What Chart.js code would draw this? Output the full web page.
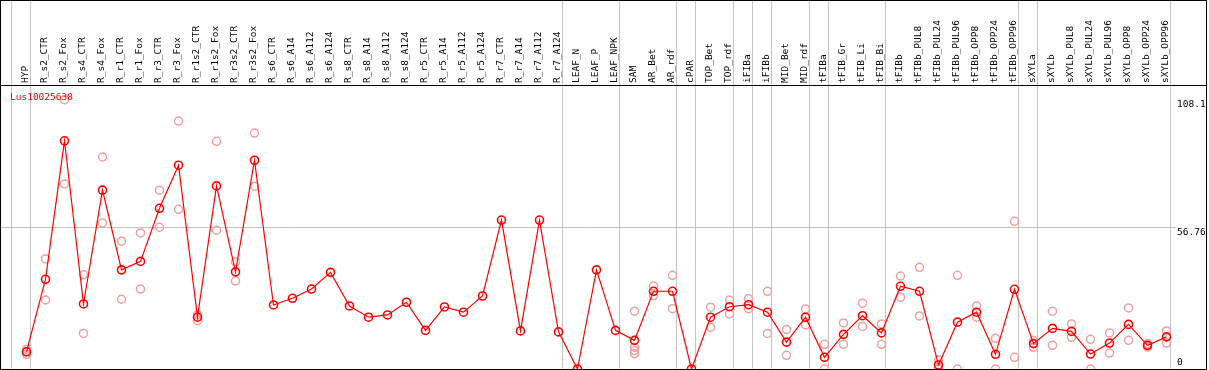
<!DOCTYPE html>
<html>
<head>
<meta charset="utf-8">
<script src="https://cdn.jsdelivr.net/npm/chart.js@4/dist/chart.umd.min.js"></script>
<style>
  html, body { margin: 0; padding: 0; background: #fff; }
  canvas { display: block; }
</style>
</head>
<body>
<canvas id="chart" width="1209" height="370"></canvas>
<script>
// categorias (columnas del grafico)
const CATS = [
  "HYP", "R_s2_CTR", "R_s2_Fox", "R_s4_CTR", "R_s4_Fox", "R_r1_CTR", "R_r1_Fox",
  "R_r3_CTR", "R_r3_Fox", "R_r1s2_CTR", "R_r1s2_Fox", "R_r3s2_CTR", "R_r3s2_Fox",
  "R_s6_CTR", "R_s6_A14", "R_s6_A112", "R_s6_A124", "R_s8_CTR", "R_s8_A14", "R_s8_A112",
  "R_s8_A124", "R_r5_CTR", "R_r5_A14", "R_r5_A112", "R_r5_A124", "R_r7_CTR", "R_r7_A14",
  "R_r7_A112", "R_r7_A124", "LEAF_N", "LEAF_P", "LEAF_NPK", "SAM", "AR_Bet", "AR_rdf",
  "cPAR", "TOP_Bet", "TOP_rdf", "iFIBa", "iFIBb", "MID_Bet", "MID_rdf", "tFIBa",
  "tFIB_Gr", "tFIB_Li", "tFIB_Bi", "tFIBb", "tFIBb_PUL8", "tFIBb_PUL24", "tFIBb_PUL96",
  "tFIBb_OPP8", "tFIBb_OPP24", "tFIBb_OPP96", "sXYLa", "sXYLb", "sXYLb_PUL8",
  "sXYLb_PUL24", "sXYLb_PUL96", "sXYLb_OPP8", "sXYLb_OPP24", "sXYLb_OPP96"
];

const GENE = "Lus10025638";

// media por categoria
const MEAN = [
  6.9, 36.0, 91.6, 26.1, 71.8, 39.8, 43.2, 64.5, 81.8, 20.8, 73.5, 39.0, 83.8,
  25.7, 28.4, 32.1, 38.8, 25.3, 20.8, 21.7, 26.8, 15.5, 24.9, 22.8, 29.3, 59.8, 15.3,
  59.8, 14.9, 0, 39.8, 15.5, 11.5, 31.2, 31.2, 0, 20.8, 25.0, 25.8, 22.8, 10.8, 20.8,
  4.7, 13.9, 21.4, 14.5, 33.2, 31.2, 1.6, 18.8, 22.8, 5.9, 32.0, 10.2, 16.3, 15.1,
  6.0, 10.4, 17.9, 9.5, 12.9
];

// replicas (null = no hay)
const REP1 = [
  7.9, 44.2, 108.1, 37.8, 85.1, 51.3, 54.6, 71.8, 99.5, 21.7, 91.4, 43.0, 94.7,
  null, null, null, null, null, null, null, null, null, null, null, null, null, null,
  null, null, null, null, null, 23.2, 33.3, 37.6, null, 24.8, 27.7, 28.2, 31.2, 15.9, 24.1,
  9.9, 18.5, 26.4, 18.1, 37.3, 40.8, 3.6, 37.6, 25.3, 12.3, 59.3, 11.4, 23.2, 18.1,
  11.9, 14.5, 24.5, 10.2, 15.3
];
const REP2 = [
  5.9, 27.7, 74.3, 14.3, 58.6, 28.0, 32.1, 56.9, 64.1, 19.4, 55.7, 35.3, 73.4,
  null, null, null, null, null, null, null, null, null, null, null, null, null, null,
  null, null, null, null, null, 8.7, 29.4, 24.2, null, 16.7, 22.1, 24.2, 14.3, 5.5, 17.7,
  0, 9.9, 17.1, 9.9, 28.8, 21.3, 0, 0, 20.8, 0, 4.7, 8.7, 9.5, 12.7,
  0, 6.4, 11.5, 8.8, 10.4
];
const REP3 = { 0: 6.9, 32: 7.4 };
const REP4 = { 32: 6.2 };

const Y_TICKS = [0, 56.76, 108.1];

// lineas de separacion de grupos (despues de estas categorias)
const GROUP_ENDS = [-1, 0, 28, 31, 34, 35, 37, 38, 39, 41, 42, 45, 52, 53, 60];

const RED = "#ff0000";
const PINK = "#f0a0a0";
const GRID = "#c4c4c4";

function toPoints(arr) {
  const out = [];
  arr.forEach((v, i) => { if (v !== null && v !== undefined) out.push({ x: i, y: v }); });
  return out;
}
function dictPoints(d) {
  return Object.keys(d).map(k => ({ x: Number(k), y: d[k] }));
}

// sin relleno extra de los ejes, para que el area quede fija
function noPad(s) {
  s.paddingLeft = 0;
  s.paddingRight = 0;
  s.paddingTop = 0;
  s.paddingBottom = 0;
}

const framePlugin = {
  id: "frame",
  beforeDatasetsDraw(chart) {
    const { ctx, scales: { x } } = chart;
    const bottom = chart.chartArea.bottom;
    ctx.save();
    ctx.fillStyle = GRID;
    for (const i of GROUP_ENDS) {
      const px = Math.floor(x.getPixelForValue(i) + 4);
      ctx.fillRect(px, 0, 1, bottom);
    }
    ctx.restore();
  },
  afterDraw(chart) {
    const { ctx, chartArea } = chart;
    const w = chart.width - 2;
    ctx.save();
    ctx.fillStyle = "#000";
    ctx.fillRect(0, 0, w, 1);
    ctx.fillRect(0, chartArea.top, w, 1);
    ctx.fillRect(0, chartArea.bottom, w, 1);
    ctx.fillRect(0, 0, 1, chartArea.bottom + 1);
    ctx.fillRect(w - 1, 0, 1, chartArea.bottom + 1);
    ctx.fillStyle = RED;
    ctx.font = "9.5px 'DejaVu Sans Mono', monospace";
    ctx.textBaseline = "middle";
    ctx.fillText(GENE, 10, chartArea.top + 12.5);
    ctx.restore();
  }
};

Chart.defaults.font.family = "'DejaVu Sans Mono', monospace";
Chart.defaults.font.size = 9.5;
Chart.defaults.color = "#000";

const repStyle = {
  type: "line",
  showLine: false,
  pointStyle: "circle",
  pointRadius: 4,
  pointBorderWidth: 1.5,
  pointBorderColor: PINK,
  pointBackgroundColor: "rgba(0,0,0,0)",
  borderColor: PINK
};

new Chart(document.getElementById("chart"), {
  type: "line",
  data: {
    datasets: [
      {
        label: GENE,
        data: toPoints(MEAN),
        borderColor: RED,
        borderWidth: 1.2,
        pointStyle: "circle",
        pointRadius: 4,
        pointBorderWidth: 1.6,
        pointBorderColor: RED,
        pointBackgroundColor: "rgba(0,0,0,0)",
        tension: 0
      },
      Object.assign({ label: "rep1", data: toPoints(REP1) }, repStyle),
      Object.assign({ label: "rep2", data: toPoints(REP2) }, repStyle),
      Object.assign({ label: "rep3", data: dictPoints(REP3) }, repStyle),
      Object.assign({ label: "rep4", data: dictPoints(REP4) }, repStyle)
    ]
  },
  options: {
    responsive: false,
    animation: false,
    devicePixelRatio: 1,
    layout: { autoPadding: false, padding: { left: 1, right: 2, top: 0, bottom: 1 } },
    plugins: {
      legend: { display: false },
      tooltip: { enabled: false }
    },
    scales: {
      x: {
        type: "linear",
        position: "top",
        min: -1.342,
        max: 60.5,
        afterBuildTicks: s => { s.ticks = CATS.map((_, i) => ({ value: i })); },
        afterFit: s => { s.height = 85; noPad(s); },
        grid: { display: false, drawTicks: false },
        border: { display: false },
        ticks: {
          autoSkip: false,
          minRotation: 90,
          maxRotation: 90,
          padding: 2,
          labelOffset: 10,
          callback: v => CATS[v]
        }
      },
      y: {
        position: "right",
        min: 0,
        max: 114,
        afterBuildTicks: s => { s.ticks = Y_TICKS.map(v => ({ value: v })); },
        afterFit: s => { s.width = 31; noPad(s); },
        grid: {
          drawTicks: false,
          color: c => (c.tick && c.tick.value === 56.76 ? GRID : "rgba(0,0,0,0)")
        },
        border: { display: false },
        ticks: {
          padding: 1,
          labelOffset: 5,
          callback: v => (v === 0 ? ["0", "", ""] : String(v))
        }
      }
    }
  },
  plugins: [framePlugin]
});
</script>
</body>
</html>
